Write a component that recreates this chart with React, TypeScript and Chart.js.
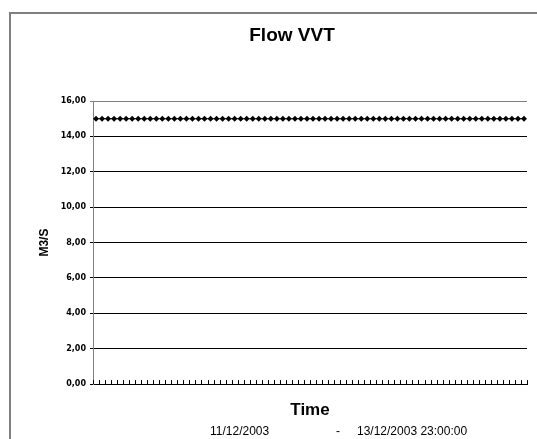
import React, { useEffect, useRef } from "react";
import { Chart, registerables } from "chart.js";

Chart.register(...registerables);

const chartTitle = "Flow VVT";
const xTitle = "Time";
const yTitle = "M3/S";
const rangeStart = "11/12/2003";
const rangeSep = "-";
const rangeEnd = "13/12/2003 23:00:00";

const days = ["11/12/2003", "12/12/2003", "13/12/2003"];
const hours = [
  "00:00", "01:00", "02:00", "03:00", "04:00", "05:00", "06:00", "07:00",
  "08:00", "09:00", "10:00", "11:00", "12:00", "13:00", "14:00", "15:00",
  "16:00", "17:00", "18:00", "19:00", "20:00", "21:00", "22:00", "23:00",
];

// Flow (M3/S), hourly, 72 readings
const flowValues = [
  15.0, 15.0, 15.0, 15.0, 15.0, 15.0, 15.0, 15.0, 15.0, 15.0, 15.0, 15.0,
  15.0, 15.0, 15.0, 15.0, 15.0, 15.0, 15.0, 15.0, 15.0, 15.0, 15.0, 15.0,
  15.0, 15.0, 15.0, 15.0, 15.0, 15.0, 15.0, 15.0, 15.0, 15.0, 15.0, 15.0,
  15.0, 15.0, 15.0, 15.0, 15.0, 15.0, 15.0, 15.0, 15.0, 15.0, 15.0, 15.0,
  15.0, 15.0, 15.0, 15.0, 15.0, 15.0, 15.0, 15.0, 15.0, 15.0, 15.0, 15.0,
  15.0, 15.0, 15.0, 15.0, 15.0, 15.0, 15.0, 15.0, 15.0, 15.0, 15.0, 15.0,
];

const yMin = 0;
const yMax = 16;
const yStep = 2;

const labels = days.flatMap((d) => hours.map((h) => `${d} ${h}`));

const SANS = '"Liberation Sans", Arial, sans-serif';

const decorPlugin = {
  id: "decor",
  afterDraw(chart: any) {
    const ctx = chart.ctx as CanvasRenderingContext2D;
    const area = chart.chartArea;
    const xs = chart.scales.x;
    ctx.save();
    // outer frame
    ctx.strokeStyle = "#808080";
    ctx.lineWidth = 2;
    ctx.strokeRect(10, 13, 600, 600);

    // inward tick marks on category boundaries
    const n = chart.data.labels.length;
    const step = (area.right - area.left) / n;
    ctx.strokeStyle = "#000";
    ctx.lineWidth = 1;
    ctx.beginPath();
    for (let i = 0; i <= n; i++) {
      const px = i < n ? xs.getPixelForValue(i) - step / 2 : xs.getPixelForValue(n - 1) + step / 2;
      const x = Math.round(px) + 0.5;
      ctx.moveTo(x, area.bottom);
      ctx.lineTo(x, area.bottom - 4);
    }
    ctx.stroke();

    // title
    ctx.fillStyle = "#000";
    ctx.textBaseline = "middle";
    ctx.textAlign = "center";
    ctx.font = `bold 19px ${SANS}`;
    ctx.fillText(chartTitle, 292, 36);

    // date range
    ctx.font = `12px ${SANS}`;
    ctx.textAlign = "left";
    ctx.fillText(rangeStart, 210, 432);
    ctx.fillText(rangeSep, 336, 432);
    ctx.fillText(rangeEnd, 357, 432);
    ctx.restore();
  },
};

export default function App() {
  const ref = useRef<HTMLCanvasElement | null>(null);

  useEffect(() => {
    if (!ref.current) return;
    const chart = new Chart(ref.current, {
      type: "line",
      data: {
        labels,
        datasets: [
          {
            data: flowValues,
            borderColor: "#000",
            backgroundColor: "#000",
            borderWidth: 1,
            pointStyle: "rectRot",
            pointRadius: 3,
            pointBorderWidth: 0,
            pointBackgroundColor: "#000",
            pointBorderColor: "#000",
            tension: 0,
            fill: false,
          },
        ],
      },
      options: {
        responsive: false,
        animation: false,
        devicePixelRatio: 1,
        layout: { padding: { left: 10, right: 10, top: 101, bottom: 18.5 } },
        plugins: {
          legend: { display: false },
          title: { display: false },
          tooltip: { enabled: false },
        },
        scales: {
          x: {
            type: "category",
            offset: true,
            grid: { display: false, drawTicks: false, tickLength: 0 },
            border: { display: true, color: "#000", width: 1 },
            ticks: { display: false },
            title: {
              display: true,
              text: xTitle,
              color: "#000",
              font: { family: SANS, size: 17, weight: "bold" },
              padding: { top: 16, bottom: 0 },
            },
          },
          y: {
            min: yMin,
            max: yMax,
            ticks: {
              stepSize: yStep,
              color: "#000",
              padding: 4,
              font: { family: '"DejaVu Sans", sans-serif', size: 8, weight: "bold" },
              callback: (v: any) => Number(v).toFixed(2).replace(".", ","),
            },
            grid: {
              color: (c: any) => (c.tick && c.tick.value === yMax ? "#808080" : "#000"),
              tickLength: 3,
              lineWidth: 1,
            },
            border: { display: true, color: "#808080", width: 1 },
            title: {
              display: true,
              text: yTitle,
              color: "#000",
              font: { family: SANS, size: 12, weight: "bold" },
              padding: { top: 27, bottom: 0 },
            },
            afterFit: (s: any) => {
              s.width = 83;
            },
          },
        },
      },
      plugins: [decorPlugin],
    });
    return () => chart.destroy();
  }, []);

  return (
    <div style={{ position: "fixed", left: 0, top: 0, width: 537, height: 439, background: "#fff" }}>
      <canvas ref={ref} width={537} height={439} />
    </div>
  );
}
